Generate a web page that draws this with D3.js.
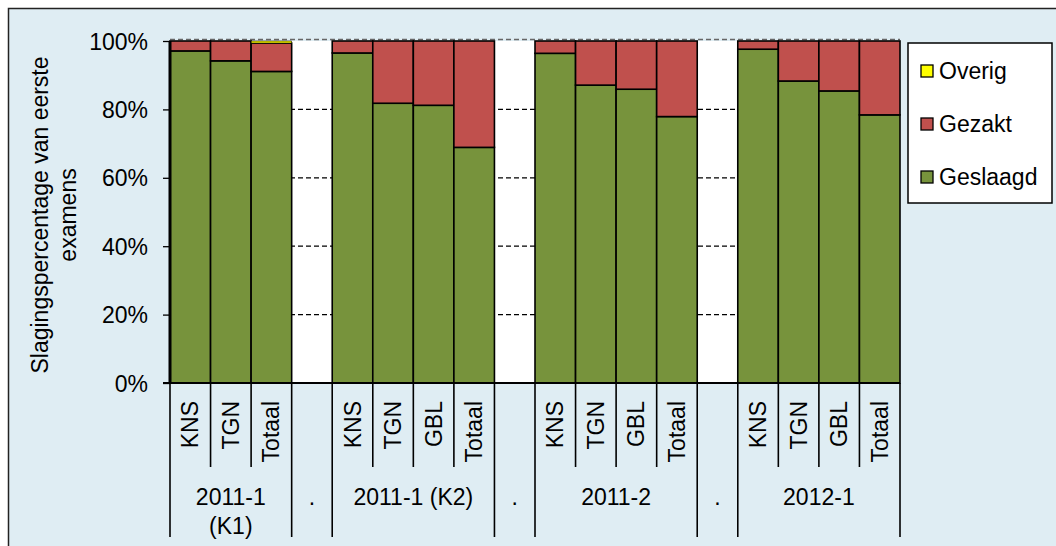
<!DOCTYPE html>
<html>
<head>
<meta charset="utf-8">
<script src="https://cdn.jsdelivr.net/npm/d3@7/dist/d3.min.js"></script>
<style>
  html, body { margin: 0; padding: 0; background: #ffffff; }
  svg { display: block; }
  text { font-family: "Liberation Sans", Arial, Helvetica, sans-serif; fill: #000; }
</style>
</head>
<body>
<svg id="chart" width="1056" height="546"></svg>
<script>
// ---- data ----
const slotLabels = ["KNS", "TGN", "Totaal", "",
                    "KNS", "TGN", "GBL", "Totaal", "",
                    "KNS", "TGN", "GBL", "Totaal", "",
                    "KNS", "TGN", "GBL", "Totaal"];
const slotGroup  = [0, 0, 0, 1, 2, 2, 2, 2, 3, 4, 4, 4, 4, 5, 6, 6, 6, 6];
const groupLabels = [["2011-1", "(K1)"], ["."], ["2011-1 (K2)"], ["."], ["2011-2"], ["."], ["2012-1"]];
const geslaagd = [97.1, 94.2, 91.1, null, 96.5, 81.8, 81.2, 68.9, null, 96.4, 87.1, 85.9, 77.9, null, 97.6, 88.3, 85.4, 78.4];
const gezakt   = [2.9, 5.8, 8.3, null, 3.5, 18.2, 18.8, 31.1, null, 3.6, 12.9, 14.1, 22.1, null, 2.4, 11.7, 14.6, 21.6];
const overig   = [0, 0, 0.6, null, 0, 0, 0, 0, null, 0, 0, 0, 0, null, 0, 0, 0, 0];
const seriesNames = ["Geslaagd", "Gezakt", "Overig"];
const seriesColors = ["#77933c", "#c0504d", "#ffff00"];
const yTicks = [0, 20, 40, 60, 80, 100];
const yTitle = ["Slagingspercentage van eerste", "examens"];

// ---- layout ----
const svg = d3.select("#chart");
const W = 1056, H = 546;
const plot = { left: 170, right: 900, top: 41, bottom: 383 };
const FS = 23;

svg.append("rect").attr("x", 0).attr("y", 0).attr("width", W).attr("height", H).attr("fill", "#ffffff");
svg.append("rect").attr("x", 8.5).attr("y", 8.5).attr("width", W + 20).attr("height", H + 20)
  .attr("fill", "#dfedf3").attr("stroke", "#222").attr("stroke-width", 1.5);

const idx = d3.range(slotLabels.length);
const x = d3.scaleBand().domain(idx).range([plot.left, plot.right]).paddingInner(0).paddingOuter(0);
const y = d3.scaleLinear().domain([0, 100]).range([plot.bottom, plot.top]);

// plot area background
svg.append("rect").attr("x", plot.left).attr("y", plot.top)
  .attr("width", plot.right - plot.left).attr("height", plot.bottom - plot.top)
  .attr("fill", "#ffffff");

// gridlines
svg.append("g").selectAll("line").data(yTicks.filter(t => t > 0)).join("line")
  .attr("x1", plot.left).attr("x2", plot.right)
  .attr("y1", d => d === 100 ? y(d) - 1.5 : y(d)).attr("y2", d => d === 100 ? y(d) - 1.5 : y(d))
  .attr("stroke", d => d === 100 ? "#666" : "#000")
  .attr("stroke-width", 1.3)
  .attr("stroke-dasharray", "5,3");

// stacked bars
const rows = idx.map(i => ({ i, Geslaagd: geslaagd[i], Gezakt: gezakt[i], Overig: overig[i] }))
  .filter(r => r.Geslaagd !== null);
const stack = d3.stack().keys(seriesNames)(rows);

const barG = svg.append("g");
stack.forEach((layer, li) => {
  barG.append("g").selectAll("rect").data(layer.filter(d => d[1] - d[0] > 0)).join("rect")
    .attr("x", d => x(d.data.i))
    .attr("width", x.bandwidth())
    .attr("y", d => y(d[1]))
    .attr("height", d => y(d[0]) - y(d[1]))
    .attr("fill", seriesColors[li])
    .attr("stroke", "#000")
    .attr("stroke-width", li === 2 ? 0.6 : 1.6);
});

// y axis
const yAxis = d3.axisLeft(y).tickValues(yTicks).tickFormat(d => d + "%").tickSize(7).tickPadding(15);
const ya = svg.append("g").attr("transform", `translate(${plot.left},0)`).call(yAxis);
ya.select(".domain").remove();
ya.selectAll(".tick line").attr("stroke", "#000").attr("stroke-width", 1.3);
ya.selectAll(".tick text").attr("font-size", FS).attr("font-family", '"Liberation Sans", Arial, sans-serif').attr("dy", "0.35em");
svg.append("line").attr("x1", plot.left).attr("x2", plot.left)
  .attr("y1", plot.top).attr("y2", plot.bottom).attr("stroke", "#000").attr("stroke-width", 3);

// x axis baseline
svg.append("line").attr("x1", plot.left - 7).attr("x2", plot.right)
  .attr("y1", plot.bottom).attr("y2", plot.bottom).attr("stroke", "#000").attr("stroke-width", 2);

// sub-category separators & labels
const xg = svg.append("g");
const subBottom = 467, grpBottom = 537;
idx.forEach(i => {
  const gStart = i === 0 || slotGroup[i - 1] !== slotGroup[i];
  xg.append("line")
    .attr("x1", x(i)).attr("x2", x(i))
    .attr("y1", plot.bottom).attr("y2", gStart ? grpBottom : subBottom)
    .attr("stroke", "#000").attr("stroke-width", 1.6);
});
xg.append("line").attr("x1", plot.right).attr("x2", plot.right)
  .attr("y1", plot.bottom).attr("y2", grpBottom).attr("stroke", "#000").attr("stroke-width", 1.6);

xg.selectAll("text.sub").data(idx.filter(i => slotLabels[i] !== "")).join("text")
  .attr("class", "sub")
  .attr("transform", i => `translate(${x(i) + x.bandwidth() / 2 + 8},401) rotate(-90)`)
  .attr("text-anchor", "end")
  .attr("font-size", FS)
  .text(i => slotLabels[i]);

// group labels
groupLabels.forEach((lines, g) => {
  const members = idx.filter(i => slotGroup[i] === g);
  const cx = (x(members[0]) + x(members[members.length - 1]) + x.bandwidth()) / 2;
  const t = xg.append("text").attr("text-anchor", "middle").attr("font-size", FS)
    .attr("x", cx).attr("y", 505);
  lines.forEach((ln, k) => {
    t.append("tspan").attr("x", cx).attr("dy", k === 0 ? 0 : 29).text(ln);
  });
});

// y title
yTitle.forEach((ln, k) => {
  svg.append("text").attr("text-anchor", "middle").attr("font-size", FS)
    .attr("transform", `translate(${48 + k * 28},215) rotate(-90)`)
    .text(ln);
});

// legend
const lg = svg.append("g");
lg.append("rect").attr("x", 908).attr("y", 43).attr("width", 144).attr("height", 160)
  .attr("fill", "#ffffff").attr("stroke", "#000").attr("stroke-width", 1.5);
const legendOrder = [2, 1, 0];
const legendY = d3.scalePoint().domain(legendOrder).range([71, 177]);
legendOrder.forEach(si => {
  lg.append("rect").attr("x", 921).attr("y", legendY(si) - 6).attr("width", 12).attr("height", 12)
    .attr("fill", seriesColors[si]).attr("stroke", "#000").attr("stroke-width", 1.3);
  lg.append("text").attr("x", 939).attr("y", legendY(si)).attr("dy", "0.36em")
    .attr("font-size", FS).text(seriesNames[si]);
});
</script>
</body>
</html>
